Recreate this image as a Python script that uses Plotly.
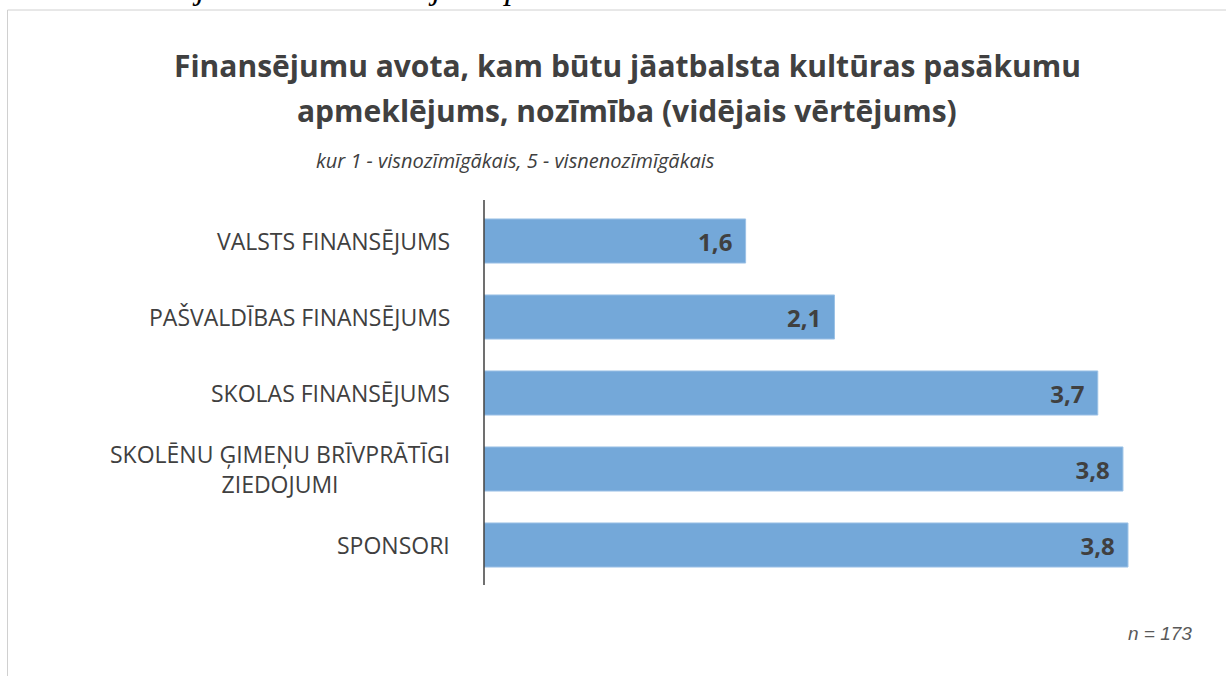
import plotly.graph_objects as go

categories = [
    "VALSTS FINANSĒJUMS",
    "PAŠVALDĪBAS FINANSĒJUMS",
    "SKOLAS FINANSĒJUMS",
    "SKOLĒNU ĢIMEŅU BRĪVPRĀTĪGI<br>ZIEDOJUMI",
    "SPONSORI",
]
values = [1.56, 2.09, 3.66, 3.81, 3.84]
labels = [f"{v:.1f}".replace(".", ",") for v in values]

title_line1 = "Finansējumu avota, kam būtu jāatbalsta kultūras pasākumu"
title_line2 = "apmeklējums, nozīmība (vidējais vērtējums)"
subtitle_text = "kur 1 - visnozīmīgākais, 5 - visnenozīmīgākais"
note_text = "n = 173"
caption_text = "11.attēls. Finansējuma avotu ranžējums pēc to nozīmības."

W, H = 1226, 676
L, R, T, B = 484, 1172, 203, 583
PW, PH = R - L, B - T


def px(x):
    return (x - L) / PW


def py(y):
    return (B - y) / PH


fig = go.Figure()
fig.add_trace(go.Bar(
    x=values,
    y=categories,
    orientation="h",
    marker=dict(color="#74a8d9", line=dict(color="#9cc2e6", width=1)),
    text=[t + "\u00a0\u2009" for t in labels],
    textposition="inside",
    insidetextanchor="end",
    textangle=0,
    textfont=dict(family="Open Sans", size=24, color="#404040", weight="bold"),
    hoverinfo="skip",
    width=0.58,
))

annotations = []
for c in categories:
    annotations.append(dict(
        text=c, x=0, xref="paper", y=c, yref="y",
        xanchor="right", yanchor="middle", xshift=-32, align="center",
        showarrow=False,
        font=dict(family="Open Sans", size=23, color="#404040"),
    ))

title_font = dict(family="Open Sans", size=30, color="#404040", weight="bold")
annotations += [
    dict(text=title_line1, x=px(627), y=py(65), xref="paper", yref="paper",
         xanchor="center", yanchor="middle", showarrow=False, font=title_font),
    dict(text=title_line2, x=px(627), y=py(110), xref="paper", yref="paper",
         xanchor="center", yanchor="middle", showarrow=False, font=title_font),
    dict(text=subtitle_text, x=px(314), y=py(160), xref="paper", yref="paper",
         xanchor="left", yanchor="middle", showarrow=False,
         font=dict(family="Open Sans", size=20, color="#404040", style="italic")),
    dict(text=note_text, x=px(1194), y=py(633), xref="paper", yref="paper",
         xanchor="right", yanchor="middle", showarrow=False,
         font=dict(family="Liberation Sans", size=19, color="#595959", style="italic")),
    dict(text=caption_text, x=px(744), y=py(8.5), xref="paper", yref="paper",
         xanchor="right", yanchor="bottom", showarrow=False,
         font=dict(family="Liberation Serif", size=34, color="#000000", style="italic")),
]

shapes = [
    dict(type="rect", xref="paper", yref="paper",
         x0=px(7.5), x1=px(1240), y0=py(10), y1=py(700),
         line=dict(color="#d0d0d0", width=1), fillcolor="rgba(0,0,0,0)", layer="below"),
    dict(type="line", xref="paper", yref="paper",
         x0=0, x1=0, y0=py(585), y1=py(200),
         line=dict(color="#404040", width=1.5)),
]

fig.update_layout(
    width=W, height=H,
    margin=dict(l=L, r=W - R, t=T, b=H - B, pad=0),
    paper_bgcolor="white", plot_bgcolor="white",
    showlegend=False,
    bargap=0.42,
    xaxis=dict(range=[0, PW / 167.7], visible=False, fixedrange=True),
    yaxis=dict(categoryorder="array", categoryarray=categories, autorange="reversed",
               showticklabels=False, showgrid=False, zeroline=False, showline=False, ticks=""),
    annotations=annotations,
    shapes=shapes,
)

fig.write_html("out.html", post_script="document.body.style.margin='0';",
               config={"displayModeBar": False})
